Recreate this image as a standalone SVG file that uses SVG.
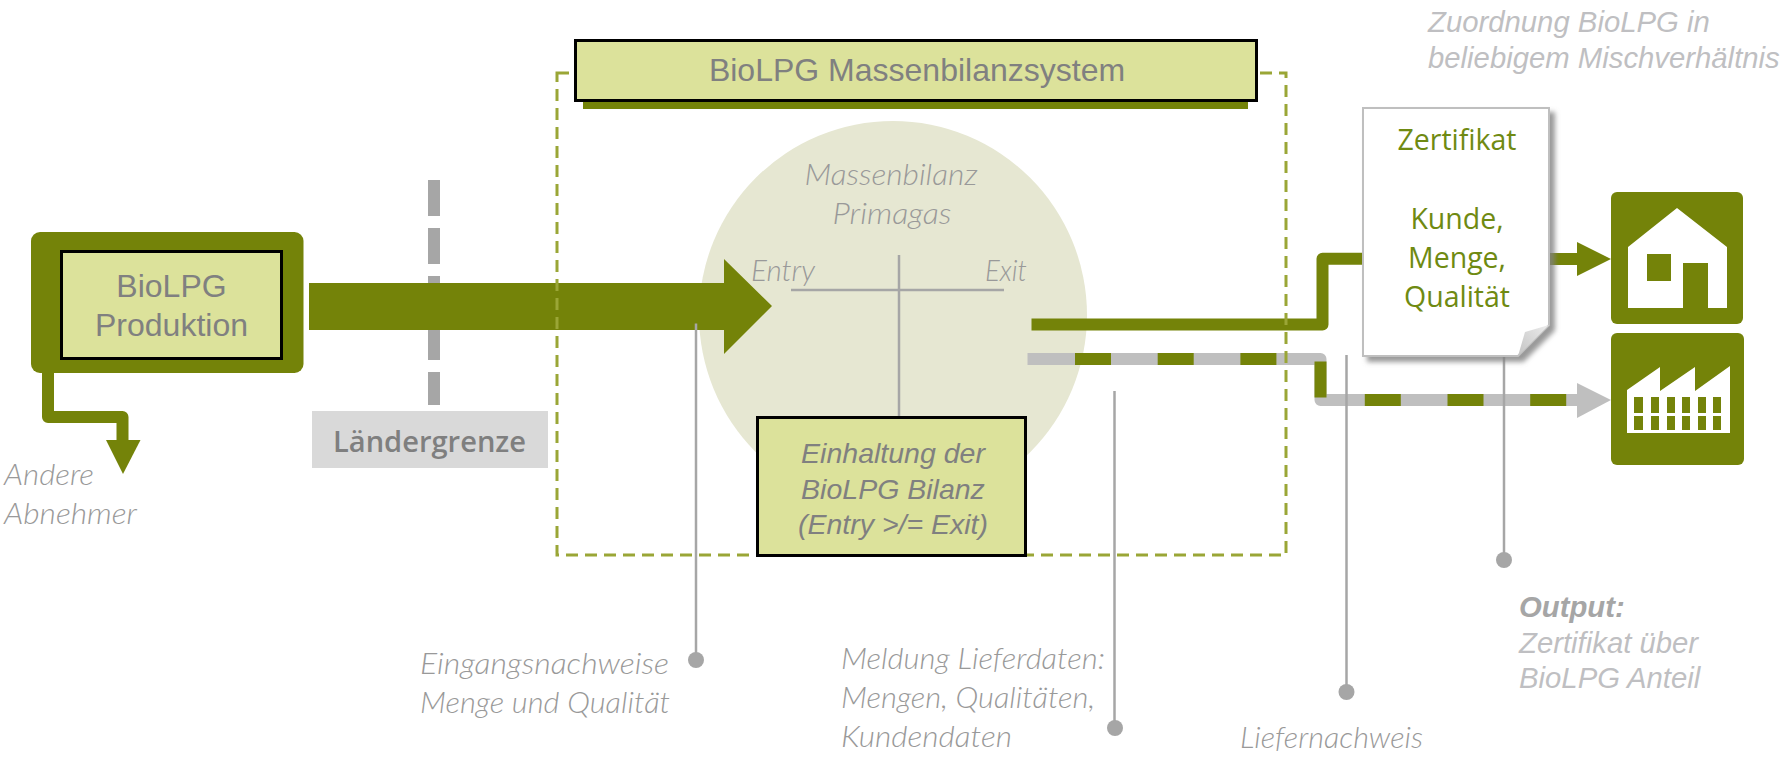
<svg xmlns="http://www.w3.org/2000/svg" width="1790" height="757" viewBox="0 0 1790 757">
<style>
.olive{fill:#748309}
.light{fill:#dce29b;stroke:#000;stroke-width:3}
.ar{font-family:"Liberation Sans",Arial,sans-serif;fill:#808080;text-anchor:middle}
.note{font-family:"Lato","Open Sans",sans-serif;font-weight:300;font-style:italic;fill:#999;font-size:29.5px}
.seg{font-family:"Open Sans","Noto Sans",sans-serif;fill:#6f8a12;font-size:28.5px;text-anchor:middle}
.leader{stroke:#a6a6a6;stroke-width:2.5;fill:none}
.dot{fill:#a6a6a6}
.arit{font-family:"Liberation Sans",Arial,sans-serif;font-style:italic;fill:#bfbfc2;font-size:29.3px}
</style>
<defs>
<filter id="sh" x="-10%" y="-10%" width="125%" height="125%"><feDropShadow dx="5" dy="5" stdDeviation="2.5" flood-color="#808080" flood-opacity="0.8"/></filter>
<linearGradient id="fold" x1="0" y1="1" x2="1" y2="0"><stop offset="0" stop-color="#c4c4c4"/><stop offset="1" stop-color="#ececec"/></linearGradient>
</defs>
<rect width="1790" height="757" fill="#fff"/>
<g id="massenbilanz">
<circle cx="893" cy="315" r="194" fill="#e6e7d2"/>
<path class="leader" d="M791,290H1004M899,255V417"/>
<text class="note" x="891" y="185" text-anchor="middle" textLength="173" lengthAdjust="spacingAndGlyphs">Massenbilanz</text>
<text class="note" x="892" y="224" text-anchor="middle" textLength="119" lengthAdjust="spacingAndGlyphs">Primagas</text>
<text class="note" x="751" y="281" textLength="64" lengthAdjust="spacingAndGlyphs">Entry</text>
<text class="note" x="985" y="281" textLength="42" lengthAdjust="spacingAndGlyphs">Exit</text>
</g>
<g id="connectors">
<path d="M434,180V405" fill="none" stroke="#a6a6a6" stroke-width="12" stroke-dasharray="36 12"/>
<path d="M48,373V417H122.500V445" fill="none" stroke="#748309" stroke-width="12" stroke-linejoin="round"/>
<path class="olive" d="M106,440H140.500L123,474Z"/>
<path class="olive" d="M309,283H724V259L772,306L724,354V330H309Z"/>
<path d="M1031.500,324.500H1322.500V258.700H1400" fill="none" stroke="#748309" stroke-width="12" stroke-linejoin="round"/>
<path d="M1540,259H1580" fill="none" stroke="#748309" stroke-width="12"/>
<path class="olive" d="M1577,242L1611,259L1577,276Z"/>
<path d="M1027.500,359H1320.500V400H1580" fill="none" stroke="#bfbfbf" stroke-width="12" stroke-linejoin="round"/>
<path d="M1075,359H1320.500V400H1570" fill="none" stroke="#748309" stroke-width="12" stroke-dasharray="36 46.7"/>
<path d="M1577,383L1611,400L1577,418Z" fill="#bfbfbf"/>
<path class="leader" d="M696,323.500V660M1114.500,391V728M1346.500,355V692M1504,343V560"/>
<circle class="dot" cx="696" cy="660" r="8"/>
<circle class="dot" cx="1115" cy="728" r="8"/>
<circle class="dot" cx="1346.500" cy="692" r="8"/>
<circle class="dot" cx="1504" cy="560" r="8"/>
</g>
<g id="system-frame">
<rect x="557" y="73" width="729" height="482" fill="none" stroke="#9aa636" stroke-width="3" stroke-dasharray="12 7"/>
</g>
<g id="produktion">
<rect class="olive" x="31" y="232" width="272.500" height="141" rx="9"/>
<rect class="light" x="61.500" y="251.500" width="220" height="107"/>
<text class="ar" x="171.500" y="297" font-size="32">BioLPG</text>
<text class="ar" x="171.500" y="336" font-size="32">Produktion</text>
</g>
<g id="laendergrenze">
<rect x="312" y="411" width="236" height="57" fill="#d9d9d9"/>
<text x="429.500" y="452" font-family="'Open Sans','Noto Sans',sans-serif" font-weight="600" font-size="28" fill="#7f7f7f" text-anchor="middle" textLength="193" lengthAdjust="spacingAndGlyphs">Ländergrenze</text>
</g>
<g id="abnehmer">
<text class="note" x="4" y="485" textLength="90" lengthAdjust="spacingAndGlyphs">Andere</text>
<text class="note" x="4" y="524" textLength="133" lengthAdjust="spacingAndGlyphs">Abnehmer</text>
</g>
<g id="title">
<rect class="olive" x="583" y="60" width="665" height="49"/>
<rect class="light" x="575.500" y="40.500" width="681" height="60"/>
<text class="ar" x="917" y="81" font-size="32">BioLPG Massenbilanzsystem</text>
</g>
<g id="einhaltung">
<rect class="light" x="757.500" y="417.500" width="268" height="138"/>
<text class="ar" x="893" y="463" font-size="28.500" font-style="italic">Einhaltung der</text>
<text class="ar" x="893" y="499" font-size="28.500" font-style="italic">BioLPG Bilanz</text>
<text class="ar" x="893" y="534" font-size="28.500" font-style="italic">(Entry &gt;/= Exit)</text>
</g>
<g id="zertifikat">
<path d="M1363,108H1549V325L1518,356H1363Z" fill="#fff" stroke="#bfbfbf" stroke-width="2" filter="url(#sh)"/>
<path d="M1549,325L1518,356L1525,332Z" fill="url(#fold)"/>
<text class="seg" x="1457" y="149.500">Zertifikat</text>
<text class="seg" x="1457" y="228.500">Kunde,</text>
<text class="seg" x="1457" y="267.500">Menge,</text>
<text class="seg" x="1457" y="306.500">Qualität</text>
</g>
<g id="haus">
<rect class="olive" x="1611" y="192" width="132" height="132" rx="6"/>
<path d="M1677,208L1727,247V308H1708V263H1683V308H1628V247Z" fill="#fff"/>
<rect class="olive" x="1647" y="254" width="24" height="27"/>
</g>
<g id="fabrik">
<rect class="olive" x="1611" y="333" width="133" height="132" rx="6"/>
<path d="M1627,433V390L1660,367V391L1695,367V391L1730,366V433Z" fill="#fff"/>
<path class="olive" d="M1634,397h9v16h-9zM1651,397h8v16h-8zM1667,397h8v16h-8zM1682,397h8v16h-8zM1698,397h8v16h-8zM1713,397h8v16h-8zM1634,416h9v14h-9zM1651,416h8v14h-8zM1667,416h8v14h-8zM1682,416h8v14h-8zM1698,416h8v14h-8zM1713,416h8v14h-8z"/>
</g>
<g id="labels">
<text class="arit" x="1428" y="32">Zuordnung BioLPG in</text>
<text class="arit" x="1428" y="68">beliebigem Mischverhältnis</text>
<text class="note" x="420" y="674" textLength="249" lengthAdjust="spacingAndGlyphs">Eingangsnachweise</text>
<text class="note" x="420" y="713" textLength="250" lengthAdjust="spacingAndGlyphs">Menge und Qualität</text>
<text class="note" x="841" y="669" textLength="264" lengthAdjust="spacingAndGlyphs">Meldung Lieferdaten:</text>
<text class="note" x="841" y="708" textLength="254" lengthAdjust="spacingAndGlyphs">Mengen, Qualitäten,</text>
<text class="note" x="841" y="747" textLength="171" lengthAdjust="spacingAndGlyphs">Kundendaten</text>
<text class="note" x="1240" y="748" textLength="183" lengthAdjust="spacingAndGlyphs">Liefernachweis</text>
<text class="arit" x="1519" y="617" font-weight="700" style="fill:#a6a6a6">Output:</text>
<text class="arit" x="1519" y="653">Zertifikat über</text>
<text class="arit" x="1519" y="688">BioLPG Anteil</text>
</g>
</svg>
